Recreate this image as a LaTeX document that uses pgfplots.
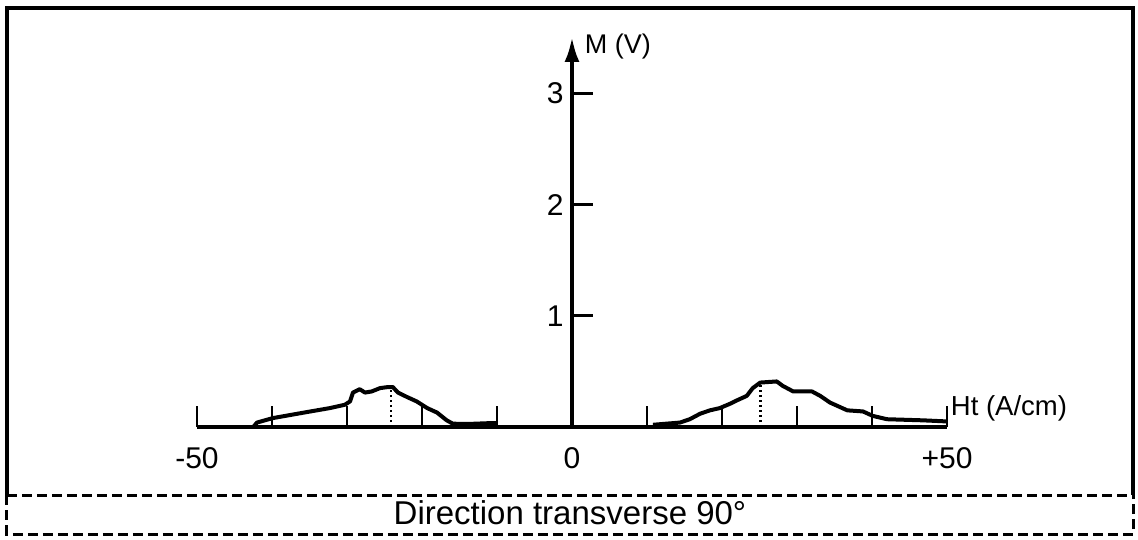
\documentclass[border=0pt]{standalone}
\usepackage{fontspec}
\setmainfont{Liberation Sans}
\usepackage{pgfplots}
\pgfplotsset{compat=1.18}
\usetikzlibrary{arrows.meta}

\begin{document}
\begin{tikzpicture}[x=1pt,y=1pt]
\path (-572,-112) rectangle (566,427);
\begin{axis}[
    at={(0,0)}, anchor=origin,
    scale only axis, width=750pt, height=390pt,
    xmin=-50, xmax=50, ymin=0, ymax=3.51,
    clip=false,
    axis lines=middle,
    axis line style={line width=4pt},
    x axis line style={-},
    y axis line style={-{Latex[length=25pt,width=15pt]}},
    xtick={-50,-40,-30,-20,-10,10,20,30,40,50},
    xticklabels={-50,,,,,,,,,+50},
    extra x ticks={0}, extra x tick labels={0},
    extra x tick style={major tick length=0pt},
    ytick={1,2,3},
    tick align=inside,
    major tick length=21pt,
    tick style={line width=2.8pt, black},
    /pgf/number format/assume math mode=true,
    xticklabel style={font=\fontsize{30}{36}\selectfont, yshift=-17pt},
    yticklabel style={font=\fontsize{30}{36}\selectfont, xshift=-5pt},
    xlabel={Ht (A/cm)},
    xlabel style={at={(axis cs:50.5,0.17)}, anchor=west, inner sep=0pt, font=\fontsize{27.5}{32}\selectfont},
    ylabel={M (V)},
    ylabel style={at={(axis cs:1.7,3.42)}, anchor=west, inner sep=0pt, rotate=0, font=\fontsize{27}{32}\selectfont},
]
% transverse direction, left branch
\addplot[line width=4pt, line join=round] coordinates {
    (-42.5,0) (-42,0.04) (-39.9,0.08) (-35.3,0.135) (-32.3,0.17) (-30.3,0.2)
    (-29.6,0.23) (-29.2,0.31) (-28.3,0.34) (-27.6,0.31) (-26.7,0.32) (-25.6,0.35)
    (-24.5,0.36) (-23.9,0.36) (-23.2,0.31) (-22,0.27) (-20.7,0.23) (-19.3,0.17)
    (-18,0.13) (-16.7,0.06) (-15.9,0.03) (-14,0.027) (-10.5,0.036) (-10,0.036)
};
% right branch
\addplot[line width=4pt, line join=round] coordinates {
    (10.8,0.02) (14.4,0.04) (15.7,0.07) (17.1,0.12) (18.4,0.15) (19.7,0.17)
    (21.1,0.21) (22,0.24) (23.3,0.28) (24.1,0.35) (25.1,0.40) (27.3,0.41)
    (28.1,0.37) (29.5,0.32) (32,0.32) (33.1,0.28) (34.4,0.22) (36.7,0.15)
    (38.8,0.14) (40.1,0.10) (42,0.07) (46.8,0.06) (50,0.05)
};
% peak markers
\addplot[line width=2.5pt, dash pattern=on 2.5pt off 2.5pt] coordinates {(-24.1,0) (-24.1,0.36)};
\addplot[line width=2.5pt, dash pattern=on 2.5pt off 2.5pt] coordinates {(25.1,0) (25.1,0.40)};
\end{axis}
\draw[line width=3.5pt] (-565,-68) -- (-565,419) -- (561,419) -- (561,-68);
\draw[line width=3pt, dash pattern=on 10pt off 5pt]
    (-565,-68) -- (561,-68) (-565,-68) -- (-565,-107) -- (561,-107) -- (561,-68);
\node[font=\fontsize{33}{38}\selectfont] at (-2,-86) {Direction transverse 90°};
\end{tikzpicture}
\end{document}
